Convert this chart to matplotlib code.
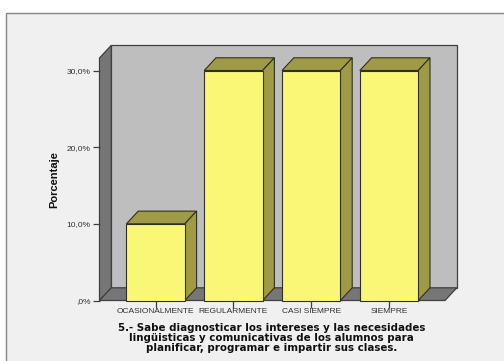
import matplotlib
matplotlib.use("Agg")
import matplotlib.pyplot as plt
from matplotlib.patches import Rectangle

categories = ["OCASIONALMENTE", "REGULARMENTE", "CASI SIEMPRE", "SIEMPRE"]
values = [10, 30, 30, 30]
y_ticks = [0, 10, 20, 30]
y_tick_labels = [",0%", "10,0%", "20,0%", "30,0%"]
y_label = "Porcentaje"
x_label = ("5.- Sabe diagnosticar los intereses y las necesidades\n"
           "lingüisticas y comunicativas de los alumnos para\n"
           "planificar, programar e impartir sus clases.")

W, H = 504, 361
BG = "#F0F0F0"
WALL = "#BEBEBE"
SHADE = "#767676"
YEL = "#FBF776"
OLIVE = "#9E9A45"
EDGE = "#303020"

fig = plt.figure(figsize=(W / 100, H / 100), dpi=100, facecolor="white")
fig.add_artist(Rectangle((6 / W, -0.1), 1.1, 1 + 0.1 - 12.5 / H, transform=fig.transFigure,
                         facecolor=BG, edgecolor="#858585", linewidth=1.0, zorder=-1))

# axes: front plane from px 99.5 to 445 in x, 300 to 58 in y
left, right, base, top = 99.5, 445.0, 300.5, 58.0
ax = fig.add_axes([left / W, 1 - base / H, (right - left) / W, (base - top) / H])
ax.patch.set_visible(False)
step = 77.8
x0 = 155.6
ax.set_xlim((left - x0) / step, (right - x0) / step)
ppy = (base - 70.5) / 30
ax.set_ylim(0, (base - top) / ppy)
xmin, xmax = ax.get_xlim()
ymax = ax.get_ylim()[1]
dx = 11.8 / step
dy = 12.7 / ppy
bw = 58.4 / step

kw = dict(edgecolor="#404040", linewidth=0.9, clip_on=False, joinstyle="miter")
ax.fill([xmin + dx, xmax + dx, xmax + dx, xmin + dx], [dy, dy, ymax + dy, ymax + dy],
        facecolor=WALL, zorder=1, **kw)
ax.fill([xmin, xmin + dx, xmin + dx, xmin], [0, dy, ymax + dy, ymax],
        facecolor=SHADE, zorder=1, **kw)
ax.fill([xmin, xmin + dx, xmax + dx, xmax], [0, dy, dy, 0],
        facecolor=SHADE, zorder=1, **kw)

bkw = dict(edgecolor=EDGE, linewidth=0.8, clip_on=False, joinstyle="miter")
for i, v in enumerate(values):
    l, r = i - bw / 2, i + bw / 2
    z = 3 + i
    ax.fill([l, l + dx, r + dx, r], [v, v + dy, v + dy, v], facecolor=OLIVE, zorder=z, **bkw)
    ax.fill([r, r + dx, r + dx, r], [0, dy, v + dy, v], facecolor=OLIVE, zorder=z, **bkw)
    ax.bar(i, v, width=bw, facecolor=YEL, zorder=z + 0.5, **bkw)

for s in ax.spines.values():
    s.set_visible(False)
ax.set_xticks(range(len(categories)), categories)
ax.set_yticks(y_ticks, y_tick_labels)
ax.tick_params(axis="both", length=5, width=0.9, color="#404040", labelcolor="#303030",
               labelsize=6.0, pad=1.5)
ax.tick_params(axis="x", pad=0.6)
for t in ax.get_xticklabels() + ax.get_yticklabels():
    t.set_fontfamily("Liberation Sans")

fig.text(54 / W, 1 - 180 / H, y_label, rotation=90, ha="center", va="center",
         fontsize=8.0, fontweight="bold", family="Liberation Sans", color="#101010")
fig.text(271.5 / W, 1 - 338 / H, x_label, ha="center", va="center", multialignment="center",
         fontsize=7.35, fontweight="bold", family="DejaVu Sans", color="#101010", linespacing=1.0)

fig.savefig("out.png", dpi=100, facecolor="white")
